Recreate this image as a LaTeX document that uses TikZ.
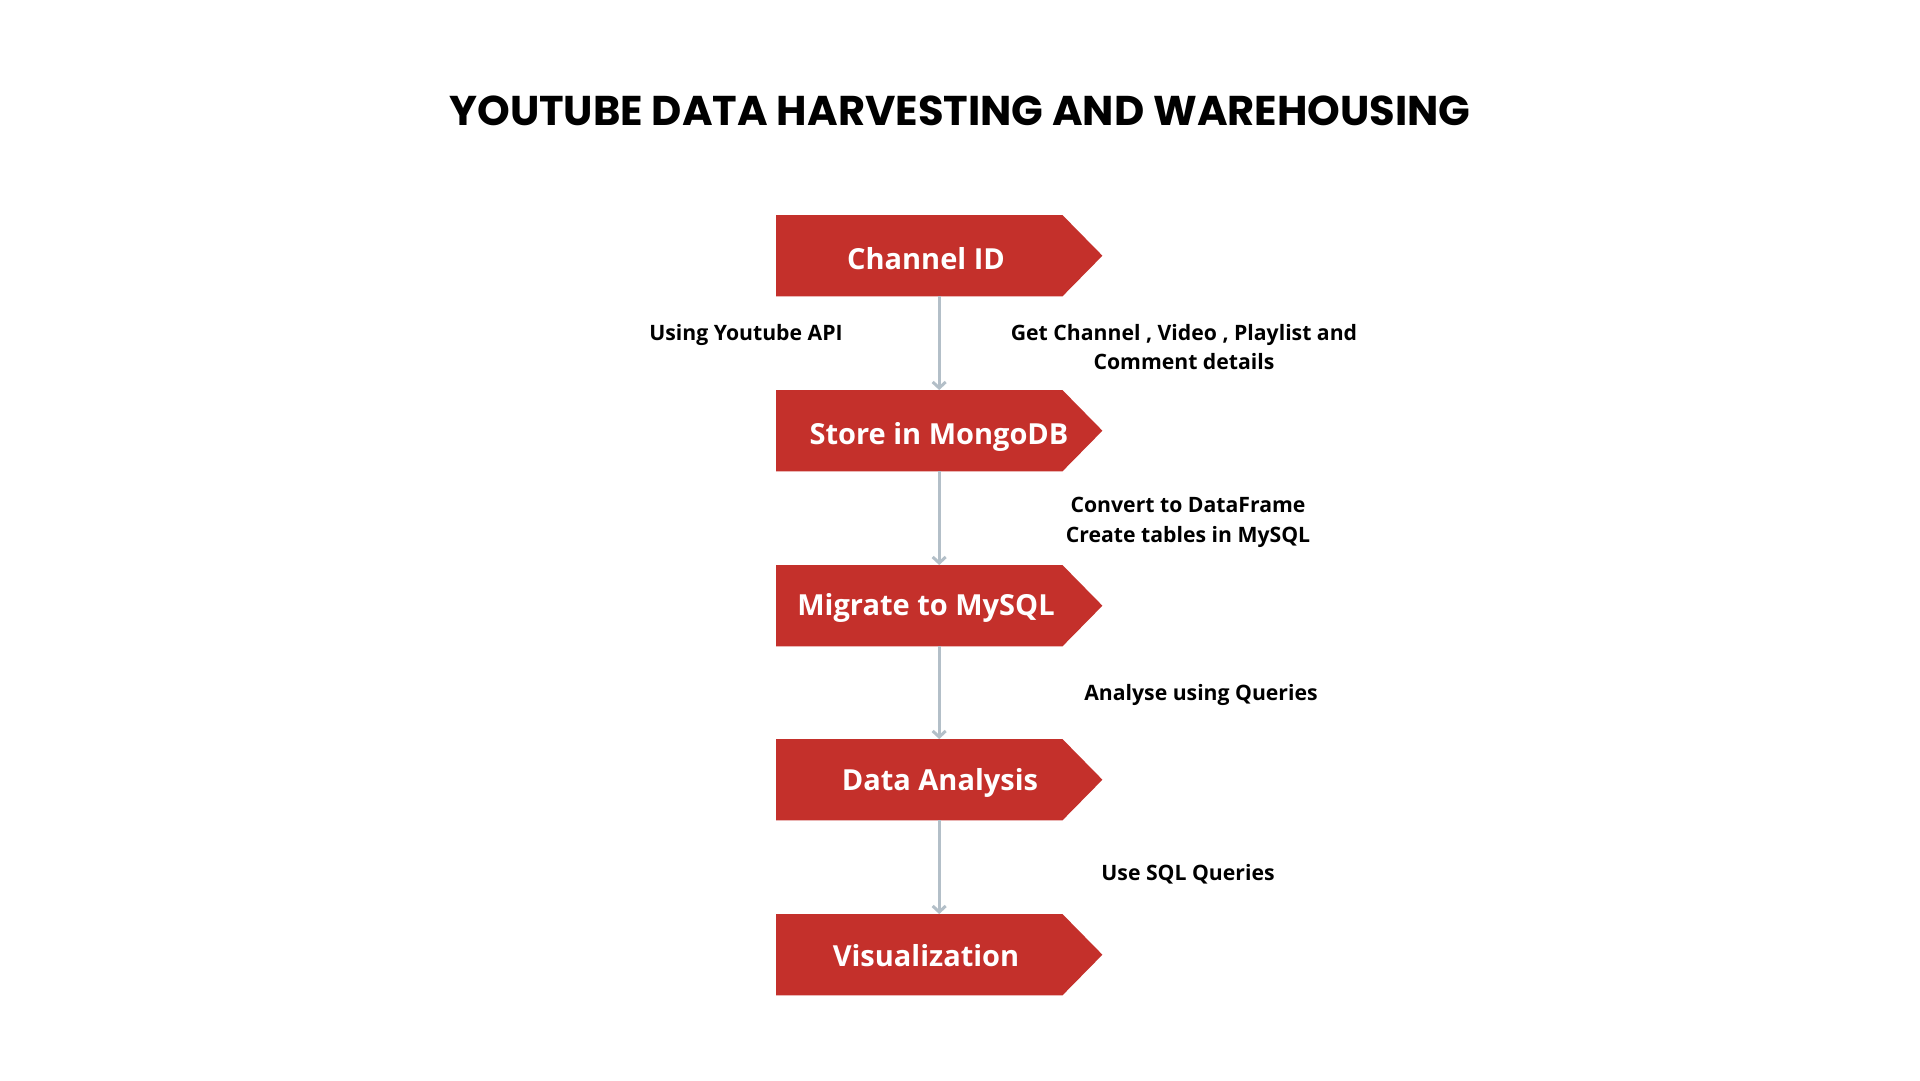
\documentclass[tikz,border=0pt]{standalone}
\usepackage{fontspec}
\setmainfont{Open Sans}
\newfontfamily\titlefont{Poppins}
\usetikzlibrary{arrows.meta}
\definecolor{stepred}{HTML}{C4302B}
\definecolor{connc}{HTML}{B3BFC8}
\begin{document}
\begin{tikzpicture}[x=1pt,y=-1pt,
  stepbox/.style={minimum width=286pt, minimum height=81pt, inner sep=0pt, anchor=north west},
  steptext/.style={text=white, font=\fontsize{29}{35}\selectfont\bfseries, anchor=base, inner sep=0pt},
  lbl/.style={font=\fontsize{21.2}{29.4}\selectfont\bfseries, align=center, anchor=center, inner sep=0pt},
  conn/.style={draw=connc, line width=3pt, -{Straight Barb[length=6pt,width=13pt]}}]
\useasboundingbox (0,0) rectangle (1920,1080);
\fill[white] (0,0) rectangle (1920,1080);
\node[font=\titlefont\fontsize{41.6}{48}\selectfont\bfseries, anchor=base, inner sep=0pt] (title) at (960,125) {YOUTUBE DATA HARVESTING AND WAREHOUSING};
\foreach \n/\y in {b1/215,b2/390,b3/565,b4/739,b5/914} {
  \node[stepbox] (\n) at (776,\y) {};
  \fill[stepred] (\n.north west) -- (\n.north east) -- ([xshift=40pt]\n.east) -- (\n.south east) -- (\n.south west) -- cycle;
}
\node[steptext] (t1) at (926,269) {Channel ID};
\node[steptext] (t2) at (939,444) {Store in MongoDB};
\node[steptext] (t3) at (926,615) {Migrate to MySQL};
\node[steptext] (t4) at (940,790) {Data Analysis};
\node[steptext] (t5) at (926,966) {Visualization};
\draw[conn] ([xshift=20pt]b1.south) -- ([xshift=20pt]b2.north);
\draw[conn] ([xshift=20pt]b2.south) -- ([xshift=20pt]b3.north);
\draw[conn] ([xshift=20pt]b3.south) -- ([xshift=20pt]b4.north);
\draw[conn] ([xshift=20pt]b4.south) -- ([xshift=20pt]b5.north);
\node[lbl] (l1) at (746,334.5) {Using Youtube API};
\node[lbl] (l2) at (1184,347) {Get Channel , Video , Playlist and\\Comment details};
\node[lbl] (l3) at (1188,522.5) {Convert to DataFrame\\Create tables in MySQL};
\node[lbl] (l4) at (1201,694.5) {Analyse using Queries};
\node[lbl] (l5) at (1188,874.5) {Use SQL Queries};
\end{tikzpicture}
\end{document}
